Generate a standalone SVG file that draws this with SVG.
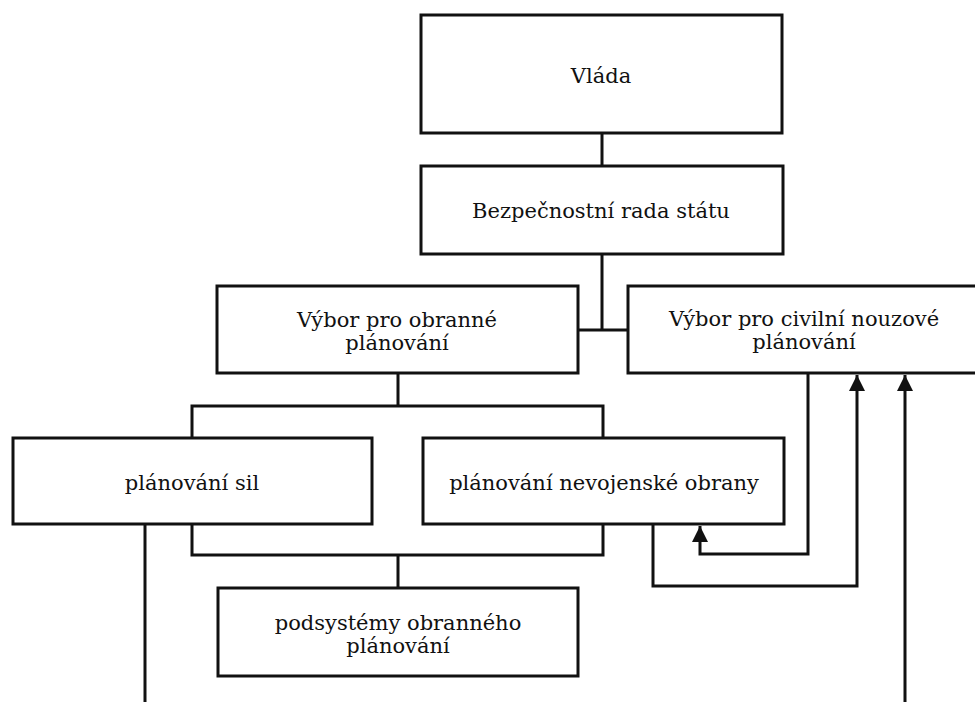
<svg xmlns="http://www.w3.org/2000/svg" width="975" height="702" viewBox="0 0 975 702">
<defs>
<style>
.box{fill:#fff;stroke:#111;stroke-width:3}
.ln{fill:none;stroke:#111;stroke-width:3}
.t{font-family:'DejaVu Serif','Liberation Serif',serif;font-size:21px;fill:#111;text-anchor:middle}
</style>
<marker id="ah" viewBox="0 0 10 10" refX="10" refY="5" markerWidth="16" markerHeight="16" markerUnits="userSpaceOnUse" orient="auto">
<path d="M0,0 L10,5 L0,10 z" fill="#111"/>
</marker>
</defs>
<rect width="975" height="702" fill="#fff"/>
<g id="connectors">
<path class="ln" d="M602,133 V166"/>
<path class="ln" d="M602,254 V330 M578,330 H628"/>
<path class="ln" d="M398,373 V406 M192,438 V406 H603 V438"/>
<path class="ln" d="M192,524 V555 H603 V524 M398,555 V588"/>
<path class="ln" d="M145,524 V702"/>
<path class="ln" d="M808,373 V554 H700 V526" marker-end="url(#ah)"/>
<path class="ln" d="M653,524 V586 H857 V375" marker-end="url(#ah)"/>
<path class="ln" d="M905,702 V375" marker-end="url(#ah)"/>
</g>
<g id="vlada"><rect class="box" x="421" y="15" width="361" height="118"/><text class="t" x="601" y="83">Vláda</text></g>
<g id="bezpecnostni-rada"><rect class="box" x="421" y="166" width="362" height="88"/><text class="t" x="601" y="218">Bezpečnostní rada státu</text></g>
<g id="vybor-obranne"><rect class="box" x="217" y="286" width="361" height="87"/><text class="t" x="397" y="327">Výbor pro obranné</text><text class="t" x="397" y="350">plánování</text></g>
<g id="vybor-civilni"><rect class="box" x="628" y="286" width="352" height="87"/><text class="t" x="804" y="326">Výbor pro civilní nouzové</text><text class="t" x="804" y="349">plánování</text></g>
<g id="planovani-sil"><rect class="box" x="13" y="438" width="359" height="86"/><text class="t" x="192" y="490">plánování sil</text></g>
<g id="planovani-nevojenske"><rect class="box" x="423" y="438" width="361" height="86"/><text class="t" x="604" y="490">plánování nevojenské obrany</text></g>
<g id="podsystemy"><rect class="box" x="218" y="588" width="360" height="88"/><text class="t" x="398" y="630">podsystémy obranného</text><text class="t" x="398" y="653">plánování</text></g>
</svg>
